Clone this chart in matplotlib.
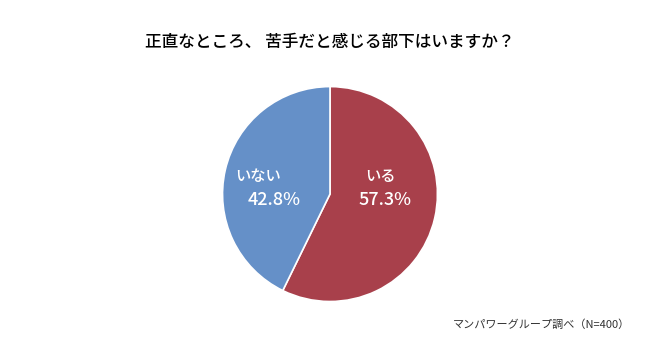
import matplotlib
matplotlib.use("Agg")
import matplotlib.pyplot as plt

plt.rcParams["font.family"] = ["Noto Sans CJK JP", "DejaVu Sans"]

# データ
labels = ["いる", "いない"]
values = [57.3, 42.8]
colors = ["#A8404B", "#6590C8"]

title = "正直なところ、 苦手だと感じる部下はいますか？"
source = "マンパワーグループ調べ（N=400）"

fig = plt.figure(figsize=(6.6, 3.6), dpi=100)
ax = fig.add_axes([0.337, 0.1625, 0.326, 0.597])

wedges, _ = ax.pie(values, colors=colors, startangle=90, counterclock=False,
                   wedgeprops=dict(edgecolor="white", linewidth=1.2))
ax.set_xlim(-1, 1)
ax.set_ylim(-1, 1)
ax.set_aspect("equal")

# ラベル（白文字）
label_pos = [(0.47, 0.16), (-0.67, 0.16)]
pct_pos = [(0.51, -0.06), (-0.52, -0.06)]
for lab, val, (lx, ly), (px, py) in zip(labels, values, label_pos, pct_pos):
    ax.text(lx, ly, lab, color="white", fontsize=11, ha="center", va="center",
            fontweight="medium")
    ax.text(px, py, f"{val:.1f}%", color="white", fontsize=13,
            ha="center", va="center", fontweight="medium")

fig.text(0.5, 0.883, title, ha="center", va="center", fontsize=12,
         fontweight="medium")
fig.text(0.955, 0.097, source, ha="right", va="center", fontsize=8, color="#333333")

fig.savefig("out.png", dpi=100)
